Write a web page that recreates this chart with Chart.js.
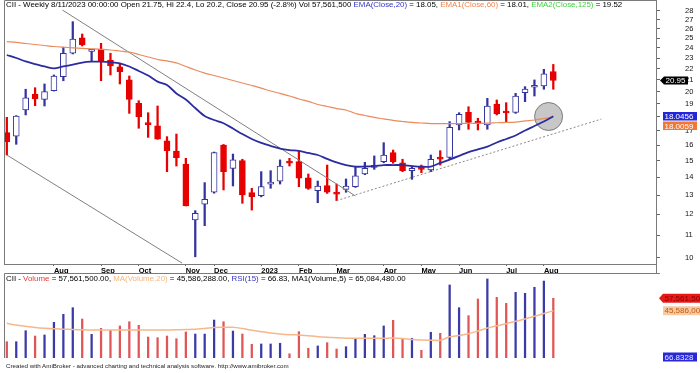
<!DOCTYPE html>
<html>
<head>
<meta charset="utf-8">
<script src="https://cdn.jsdelivr.net/npm/chart.js@4.4.0/dist/chart.umd.min.js"></script>
<style>
    html, body { margin: 0; padding: 0; background: #fff; }
    #wrap { position: relative; width: 700px; height: 373px; overflow: hidden; font-family: "Liberation Sans", Arial, sans-serif; }
    #priceCanvas { position: absolute; left: 0; top: 0; }
    #volCanvas { position: absolute; left: 0; top: 273px; }
    .txt { position: absolute; white-space: nowrap; font-size: 7.9px; line-height: 8px; color: #000; }
    .foot { font-size: 6.2px; line-height: 7px; color: #222; }
    .blue { color: #3434c4; }
    .orange { color: #f0844e; }
    .green { color: #3cd23c; }
    .red { color: #e23a3a; }
    .peach { color: #f6b57c; }
</style>
</head>
<body>
<div id="wrap">
    <canvas id="priceCanvas" width="700" height="273"></canvas>
    <canvas id="volCanvas" width="700" height="100"></canvas>
    <div class="txt" style="left:6px;top:1px">CII - Weekly 8/11/2023 00:00:00 Open 21.75, Hi 22.4, Lo 20.2, Close 20.95 (-2.8%) Vol 57,561,500 <span class="blue">EMA(Close,20)</span> = 18.05, <span class="orange">EMA1(Close,60)</span> = 18.01, <span class="green">EMA2(Close,125)</span> = 19.52</div>
    <div class="txt" style="left:6px;top:275px">CII - <span class="red">Volume</span> = 57,561,500.00, <span class="peach">MA(Volume,20)</span> = 45,586,288.00, <span class="blue">RSI(15)</span> = 66.83, MA1(Volume,5) = 65,084,480.00</div>
    <div class="txt foot" style="left:6px;top:362px">Created with AmiBroker - advanced charting and technical analysis software. http://www.amibroker.com</div>
</div>
<script>
// Weekly bars, Jul 2022 .. 8/11/2023
const opens  = [16.86, 16.62, 18.53, 19.80, 19.37, 20.08, 21.29, 23.47, 25.04, 23.65,
                23.89, 22.82, 22.19, 21.00, 19.05, 17.53, 17.35, 16.30, 15.62, 14.79,
                11.72, 12.52, 13.15, 16.01, 14.53, 15.00, 13.13, 12.96, 13.60, 13.78,
                14.90, 14.94, 13.97, 13.24, 13.52, 13.12, 13.31, 13.46, 14.19, 14.59,
                14.94, 15.51, 14.87, 14.39, 14.53, 14.43, 15.20, 15.21, 17.41, 18.35,
                17.65, 17.41, 18.99, 18.40, 18.35, 19.91, 20.37, 20.48, 21.75];
const highs  = [17.97, 18.10, 20.20, 20.33, 20.65, 21.44, 24.06, 26.77, 25.43, 23.85,
                24.46, 23.47, 22.51, 21.35, 19.26, 18.32, 18.84, 16.58, 16.76, 15.15,
                12.18, 13.69, 15.55, 16.05, 15.42, 15.09, 13.37, 14.33, 14.39, 15.05,
                15.15, 15.64, 14.19, 13.78, 14.73, 13.61, 13.90, 14.59, 14.90, 15.30,
                16.17, 15.68, 15.09, 14.67, 14.73, 15.36, 15.64, 17.65, 18.32, 18.78,
                17.90, 19.45, 19.32, 19.10, 19.86, 20.42, 21.00, 21.95, 22.40];
const lows   = [15.36, 16.06, 18.15, 18.86, 18.84, 20.05, 20.93, 23.40, 24.19, 22.66,
                20.93, 21.44, 20.65, 18.27, 17.17, 16.53, 16.40, 14.33, 14.67, 12.42,
                10.05, 11.44, 13.10, 13.28, 13.50, 12.56, 12.21, 12.90, 13.37, 13.61,
                14.67, 13.46, 13.31, 12.59, 13.09, 12.70, 13.15, 13.42, 14.15, 14.47,
                14.87, 14.84, 14.33, 13.88, 14.27, 14.33, 14.73, 15.10, 17.05, 17.10,
                17.05, 17.10, 18.15, 17.65, 18.27, 19.18, 19.64, 20.20, 20.20];
const closes = [16.24, 18.07, 19.50, 19.40, 20.00, 21.35, 23.47, 24.90, 24.29, 23.80,
                22.66, 22.26, 21.74, 19.37, 18.02, 17.43, 16.40, 15.64, 15.19, 12.42,
                12.05, 12.77, 15.51, 14.33, 15.05, 13.00, 12.91, 13.46, 13.69, 14.67,
                14.85, 13.94, 13.37, 13.50, 13.15, 13.05, 13.50, 14.09, 14.53, 14.67,
                15.36, 14.94, 14.39, 14.53, 14.47, 15.09, 15.10, 17.24, 18.20, 17.60,
                17.55, 18.84, 18.22, 18.30, 19.64, 20.22, 20.48, 21.55, 20.95];

// EMA(Close,20) and EMA1(Close,60)
const ema20 = [23.30, 23.01, 22.68, 22.44, 22.21, 22.03, 22.21, 22.39, 22.58, 22.66,
               22.66, 22.61, 22.51, 22.21, 21.80, 21.39, 20.85, 20.56, 19.85, 19.35,
               18.68, 18.07, 17.77, 17.53, 17.15, 16.76, 16.42, 16.15, 15.95, 15.78,
               15.68, 15.62, 15.49, 15.36, 15.11, 14.89, 14.73, 14.63, 14.64, 14.67,
               14.73, 14.73, 14.73, 14.67, 14.63, 14.64, 14.86, 15.07, 15.30, 15.55,
               15.72, 15.91, 16.18, 16.42, 16.66, 17.01, 17.33, 17.66, 18.0456];
const ema60 = [24.63, 24.55, 24.44, 24.34, 24.24, 24.14, 24.07, 24.01, 23.96, 23.91,
               23.86, 23.79, 23.69, 23.59, 23.35, 23.11, 22.87, 22.73, 22.54, 22.21,
               21.89, 21.61, 21.39, 21.17, 20.95, 20.73, 20.52, 20.30, 20.05, 19.85,
               19.64, 19.40, 19.20, 18.96, 18.80, 18.64, 18.53, 18.26, 18.11, 17.96,
               17.85, 17.74, 17.66, 17.59, 17.55, 17.51, 17.51, 17.51, 17.51, 17.53,
               17.53, 17.54, 17.57, 17.59, 17.62, 17.70, 17.77, 17.88, 18.0059];

// Volume (millions) and MA(Volume,20)
const volumeM  = [15.7, 15.7, 26.3, 21.2, 22.2, 34.4, 42.1, 48.5, 37.6, 22.8,
                  28.6, 26.7, 30.9, 35.0, 31.5, 20.2, 19.6, 21.2, 18.6, 25.1,
                  23.1, 23.1, 36.6, 35.0, 26.0, 23.1, 13.2, 13.5, 13.5, 14.2,
                  4.1, 25.4, 9.4, 11.6, 14.8, 8.7, 10.9, 19.0, 22.8, 21.5,
                  30.9, 36.3, 18.3, 19.0, 7.4, 24.8, 23.8, 70.4, 48.5, 40.8,
                  56.9, 76.2, 58.5, 52.7, 63.3, 62.4, 68.2, 74.2, 57.5615];
const volMa20M = [33.4, 31.8, 30.6, 29.5, 28.7, 28.1, 27.8, 27.5, 27.2, 27.0,
                  27.0, 27.0, 27.0, 27.0, 27.0, 27.0, 27.0, 27.0, 27.2, 27.5,
                  27.8, 28.4, 29.4, 29.6, 29.6, 28.4, 26.8, 25.4, 24.1, 23.1,
                  22.4, 22.2, 21.4, 20.6, 20.0, 19.5, 19.1, 19.0, 19.0, 19.0,
                  19.0, 19.3, 18.8, 17.8, 17.4, 17.2, 17.1, 20.4, 21.7, 23.4,
                  26.0, 28.9, 31.0, 33.1, 35.4, 37.6, 40.2, 42.9, 45.586];

const monthTickIdx = [5, 10, 14, 19, 22, 27, 31, 35, 40, 44, 48, 53, 57];
const monthLabels  = ['Aug', 'Sep', 'Oct', 'Nov', 'Dec', '2023', 'Feb', 'Mar', 'Apr', 'May', 'Jun', 'Jul', 'Aug'];
const priceTicks   = [10, 11, 12, 13, 14, 15, 16, 17, 18, 19, 20, 21, 22, 23, 24, 25, 26, 27, 28];

// hand-drawn trendlines: [bar index, price]
const trendDown    = [[5.9, 28.1], [37.0, 12.95]];
const channelLow   = [[0, 15.36], [18.6, 9.79]];
const supportLine  = [[35, 12.70], [63.1, 17.84]];
const circleMark   = [[57.5, 18.03]];

const rsiLast = 66.8328;

const BLUE = '#34349e';
const RED = '#e60000';
const FONT = '"Liberation Sans", Arial, sans-serif';

const idx = closes.map((_, i) => i);
const isUp = i => closes[i] >= opens[i];
const pts = arr => arr.map(p => ({ x: p[0], y: p[1] }));

Chart.defaults.font.family = FONT;

function drawTag(ctx, x, y, w, h, bg, fg, text, arrow) {
    ctx.save();
    ctx.fillStyle = bg;
    ctx.beginPath();
    if (arrow) {
        ctx.moveTo(x - 4, y);
        ctx.lineTo(x, y - h / 2);
        ctx.lineTo(x + w, y - h / 2);
        ctx.lineTo(x + w, y + h / 2);
        ctx.lineTo(x, y + h / 2);
        ctx.closePath();
    } else {
        ctx.rect(x, y - h / 2, w, h);
    }
    ctx.fill();
    ctx.fillStyle = fg;
    ctx.font = '8px ' + FONT;
    ctx.textBaseline = 'middle';
    ctx.textAlign = 'left';
    ctx.fillText(text, x + 1.5, y + 0.5);
    ctx.restore();
}

// pane frame + price tags
const pricePanePlugin = {
    id: 'pricePane',
    afterDraw(chart) {
        const { ctx, chartArea: a, scales } = chart;
        ctx.save();
        ctx.strokeStyle = '#7a7a7a';
        ctx.lineWidth = 1;
        ctx.beginPath();
        ctx.moveTo(a.left + 0.5, a.bottom);
        ctx.lineTo(a.left + 0.5, a.top + 0.5);
        ctx.lineTo(a.right, a.top + 0.5);
        ctx.moveTo(a.right + 0.5, a.bottom);
        ctx.lineTo(a.right + 0.5, chart.height);
        ctx.stroke();
        ctx.restore();

        const y = scales.y;
        const last = closes.length - 1;
        drawTag(ctx, a.right + 8, y.getPixelForValue(closes[last]), 24, 8, '#000', '#fff', closes[last].toFixed(2), true);
        const yb = y.getPixelForValue(ema20[last]);
        drawTag(ctx, a.right + 7, yb, 34, 8.5, '#2424d8', '#fff', ema20[last].toFixed(4), false);
        drawTag(ctx, a.right + 7, yb + 9.5, 34, 8.5, '#f07834', '#fff', ema60[last].toFixed(4), false);
    }
};

const volPanePlugin = {
    id: 'volPane',
    afterDraw(chart) {
        const { ctx, chartArea: a, scales } = chart;
        ctx.save();
        ctx.strokeStyle = '#7a7a7a';
        ctx.lineWidth = 1;
        ctx.beginPath();
        ctx.moveTo(a.left + 0.5, a.bottom);
        ctx.lineTo(a.left + 0.5, a.top + 0.5);
        ctx.lineTo(a.right + 4, a.top + 0.5);
        ctx.stroke();
        ctx.restore();

        const y = scales.y;
        const last = volumeM.length - 1;
        const fmt = v => Math.round(v * 1e6).toLocaleString('en-US');
        drawTag(ctx, a.right + 7, y.getPixelForValue(volumeM[last]), 40, 9, '#e81818', '#8a0000', fmt(volumeM[last]), true);
        drawTag(ctx, a.right + 7, y.getPixelForValue(volMa20M[last]), 40, 9, '#f9c9a0', '#c05a14', fmt(volMa20M[last]), false);
        drawTag(ctx, a.right + 7, a.bottom - 1, 34, 9, '#2828d8', '#e8e8ff', rsiLast.toFixed(4), false);
    }
};

const xRange = { min: -0.3, max: 68.9 };

new Chart(document.getElementById('priceCanvas'), {
    type: 'bar',
    data: {
        datasets: [
            {
                type: 'line', data: idx.map(i => ({ x: i, y: ema20[i] })),
                borderColor: '#2c2ca0', borderWidth: 1.8, pointRadius: 0, tension: 0.3, order: 0
            },
            {
                type: 'line', data: idx.map(i => ({ x: i, y: ema60[i] })),
                borderColor: '#ec8a5c', borderWidth: 1.2, pointRadius: 0, tension: 0.3, order: 0
            },
            {
                type: 'line', data: pts(trendDown),
                borderColor: '#808080', borderWidth: 1, pointRadius: 0, order: 0
            },
            {
                type: 'line', data: pts(channelLow),
                borderColor: '#808080', borderWidth: 1, pointRadius: 0, order: 0
            },
            {
                type: 'line', data: pts(supportLine),
                borderColor: '#8a8a8a', borderWidth: 1, borderDash: [2, 2], pointRadius: 0, order: 0
            },
            {
                // candle bodies
                data: idx.map(i => ({ x: i, y: [opens[i], closes[i]] })),
                backgroundColor: idx.map(i => isUp(i) ? '#ffffff' : RED),
                borderColor: idx.map(i => isUp(i) ? BLUE : RED),
                borderWidth: 1, borderSkipped: false, barThickness: 6, minBarLength: 2,
                grouped: false, order: 1
            },
            {
                // wicks
                data: idx.map(i => ({ x: i, y: [lows[i], highs[i]] })),
                backgroundColor: idx.map(i => isUp(i) ? BLUE : RED),
                borderWidth: 0, barThickness: 1.6, grouped: false, order: 2
            },
            {
                type: 'scatter', data: pts(circleMark),
                pointRadius: 14, backgroundColor: 'rgba(175,175,175,0.7)',
                borderColor: '#7a7a7a', borderWidth: 1, order: 3
            }
        ]
    },
    options: {
        responsive: false,
        animation: false,
        events: [],
        layout: { autoPadding: false, padding: { left: 4, right: 0, top: 0, bottom: 0 } },
        plugins: { legend: { display: false }, tooltip: { enabled: false } },
        scales: {
            x: {
                type: 'linear', min: xRange.min, max: xRange.max, offset: false,
                afterBuildTicks: s => { s.ticks = monthTickIdx.map(v => ({ value: v })); },
                afterFit: s => { s.height = 9; s.paddingLeft = 0; s.paddingRight = 0; },
                ticks: {
                    autoSkip: false, maxRotation: 0, align: 'start', padding: 0,
                    color: '#000', font: { size: 7.5, weight: 'bold' },
                    callback: (v, i) => monthLabels[i]
                },
                grid: { offset: false, drawOnChartArea: false, drawTicks: true, tickLength: 2, color: '#666' },
                border: { display: true, color: '#7a7a7a' }
            },
            y: {
                type: 'logarithmic', position: 'right', min: 9.753, max: 29.30,
                afterBuildTicks: s => { s.ticks = priceTicks.map(v => ({ value: v })); },
                afterFit: s => { s.width = 44; s.paddingTop = 0; s.paddingBottom = 0; },
                ticks: {
                    crossAlign: 'near', padding: 25, color: '#111',
                    font: { size: 7.5 },
                    callback: v => String(v)
                },
                grid: { drawOnChartArea: false, drawTicks: true, tickLength: 4, color: '#666' },
                border: { display: true, color: '#7a7a7a' }
            }
        }
    },
    plugins: [pricePanePlugin]
});

new Chart(document.getElementById('volCanvas'), {
    type: 'bar',
    data: {
        datasets: [
            {
                type: 'line', data: idx.map(i => ({ x: i, y: volMa20M[i] })),
                borderColor: '#f5b88c', borderWidth: 1.5, pointRadius: 0, tension: 0.3, order: 0
            },
            {
                data: idx.map(i => ({ x: i, y: volumeM[i] })),
                backgroundColor: idx.map(i => isUp(i) ? '#3a3aa8' : '#e05656'),
                borderWidth: 0, barThickness: 1.6, grouped: false, order: 1
            }
        ]
    },
    options: {
        responsive: false,
        animation: false,
        events: [],
        layout: { autoPadding: false, padding: { left: 4, right: 44, top: 0, bottom: 15 } },
        plugins: { legend: { display: false }, tooltip: { enabled: false } },
        scales: {
            x: { type: 'linear', display: false, min: xRange.min, max: xRange.max, offset: false },
            y: { display: false, min: 0, max: 81.96 }
        }
    },
    plugins: [volPanePlugin]
});
</script>
</body>
</html>
